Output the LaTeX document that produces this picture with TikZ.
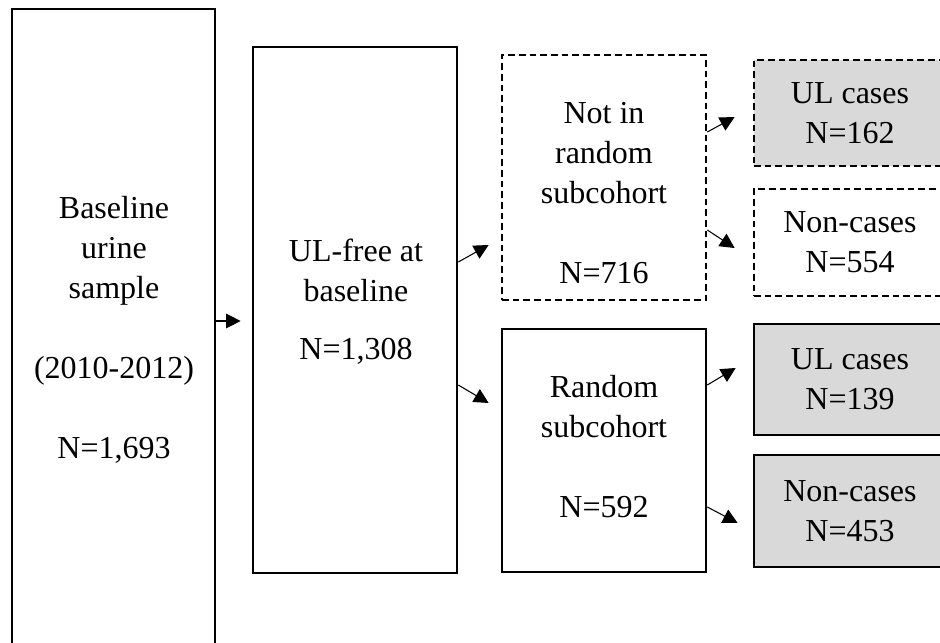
\documentclass[tikz,border=0pt]{standalone}
\usepackage{fontspec}
\setmainfont{Liberation Serif}
\usetikzlibrary{arrows.meta,calc}
\tikzstyle{bigbox} = [rectangle, draw = black, line width = 2pt, fill = white]
\tikzstyle{dashbox} = [bigbox, dash pattern = on 5pt off 3pt]
\tikzstyle{casebox} = [rectangle, align = center, minimum width = 144pt, draw = black, line width = 2pt, fill = gray!30]
\tikzstyle{boxtext} = [align = center]
\tikzstyle{arrow} = [line width = 0.8pt, -{Triangle[length=11pt,width=11pt]}]

\begin{document}
\begin{tikzpicture}[x = 0.75pt, y = -0.75pt, font = \fontsize{24}{30}\selectfont]
\useasboundingbox (0,0) rectangle (940,643);
\clip (0,0) rectangle (940,643);

% outer boxes, text set separately
\node(sample)  [bigbox, minimum width = 152.25pt, minimum height = 518.25pt] at (113.5,354.5) {};
\node(ulfree)  [bigbox, minimum width = 153pt, minimum height = 394.5pt] at (355,310) {};
\node(notrand) [dashbox, minimum width = 153pt, minimum height = 183.75pt] at (604,177.5) {};
\node(randsub) [bigbox, minimum width = 153pt, minimum height = 182.25pt] at (604,450.5) {};

\node(sampletxt)  [boxtext] at (114,330) {Baseline\\urine\\sample\\[30pt](2010-2012)\\[30pt]N=1,693};
\node(ulfreetxt)  [boxtext] at (356,302) {UL-free at\\baseline\\[13.5pt]N=1,308};
\node(notrandtxt) [boxtext] at (604,193.5) {Not in\\random\\subcohort\\[30pt]N=716};
\node(randsubtxt) [boxtext] at (604,446.5) {Random\\subcohort\\[30pt]N=592};

% outcome boxes
\node(nrcases) [casebox, dash pattern = on 5pt off 3pt, minimum height = 79.5pt] at (850,113) {UL cases\\N=162};
\node(nrnon)   [casebox, dash pattern = on 5pt off 3pt, fill = white, minimum height = 80.25pt] at (850,242.5) {Non-cases\\N=554};
\node(rcases)  [casebox, minimum height = 83.25pt] at (850,379.5) {UL cases\\N=139};
\node(rnon)    [casebox, minimum height = 84pt] at (850,511) {Non-cases\\N=453};

\draw [arrow] (sample.east |- 0,321) -- ($(ulfree.west |- 0,321)+(-11,0)$);
\draw [arrow] (ulfree.east |- 0,262) -- ($(notrand.west |- 0,245)+(-12,0)$);
\draw [arrow] (ulfree.east |- 0,385) -- ($(randsub.west |- 0,403)+(-12,0)$);
\draw [arrow] (notrand.east |- 0,132) -- ($(nrcases.west |- 0,117)+(-18,0)$);
\draw [arrow] (notrand.east |- 0,230) -- ($(nrnon.west |- 0,248)+(-18,0)$);
\draw [arrow] (randsub.east |- 0,385) -- ($(rcases.west |- 0,368)+(-17,0)$);
\draw [arrow] (randsub.east |- 0,507) -- ($(rnon.west |- 0,523)+(-15,0)$);

\end{tikzpicture}
\end{document}
